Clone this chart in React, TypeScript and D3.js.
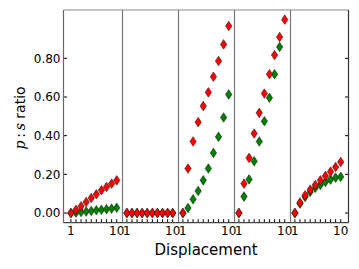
import * as d3 from 'd3';

// x positions shared by every panel
const steps = [1, 2, 3, 4, 5, 6, 7, 8, 9, 10];

// red series, one per panel
const red1 = [0, 0.017, 0.035, 0.057, 0.078, 0.097, 0.118, 0.135, 0.152, 0.169];
const red2 = [0, 0, 0, 0, 0, 0, 0, 0, 0, 0];
const red3 = [0, 0.23, 0.37, 0.47, 0.553, 0.624, 0.705, 0.786, 0.872, 0.967];
const red4 = [0, 0.152, 0.285, 0.411, 0.518, 0.618, 0.718, 0.817, 0.91, 1.0];
const red5 = [0, 0.054, 0.092, 0.121, 0.145, 0.169, 0.192, 0.214, 0.238, 0.264];

// green series, one per panel (null = above the plot)
const green1 = [0, 0.002, 0.005, 0.008, 0.011, 0.014, 0.017, 0.02, 0.023, 0.027];
const green2 = [0, 0, 0, 0, 0, 0, 0, 0, 0, 0];
const green3 = [0, 0.026, 0.071, 0.114, 0.169, 0.23, 0.311, 0.394, 0.494, 0.613];
const green4 = [0, 0.085, 0.174, 0.268, 0.37, 0.475, 0.596, 0.718, 0.859, null];
const green5 = [0, 0.049, 0.083, 0.109, 0.13, 0.145, 0.161, 0.173, 0.183, 0.187];

const yTicks = [0, 0.2, 0.4, 0.6, 0.8];
const xTickLabels = [1, 10];

const panels = [
  { red: red1, green: green1 },
  { red: red2, green: green2 },
  { red: red3, green: green3 },
  { red: red4, green: green4 },
  { red: red5, green: green5 },
];

const WIDTH = 359;
const HEIGHT = 269;
const box = { left: 63.5, right: 348.5, top: 10, bottom: 222.7 };
const FONT = '"DejaVu Sans", sans-serif';

const diamond = (cx: number, cy: number) => {
  const w = 3.2;
  const h = 4.8;
  return `M${cx},${cy - h}L${cx + w},${cy}L${cx},${cy + h}L${cx - w},${cy}Z`;
};

const App = () => {
  const y = d3.scaleLinear().domain([-0.05, 1.05]).range([box.bottom, box.top]);

  const band = d3.scaleBand<number>()
    .domain(panels.map((_, i) => i))
    .range([box.left + 2.3, box.right - 2.7])
    .paddingInner(0)
    .paddingOuter(0);

  const xFor = (i: number) => {
    const x0 = band(i) || 0;
    return d3.scaleLinear().domain([0, 11]).range([x0, x0 + band.bandwidth()]);
  };

  return (
    <svg width={WIDTH} height={HEIGHT} style={{ position: 'absolute', left: 0, top: 0 }}>
      <rect x={0} y={0} width={WIDTH} height={HEIGHT} fill="#fff" />

      {/* markers */}
      {panels.map((p, i) => {
        const x = xFor(i);
        return (
          <g key={i}>
            {steps.map((s, j) => p.green[j] == null ? null : (
              <path key={'g' + j} d={diamond(x(s), y(p.green[j] as number))}
                fill="#008000" stroke="#111" strokeWidth={0.5} />
            ))}
            {steps.map((s, j) => (
              <path key={'r' + j} d={diamond(x(s), y(p.red[j]))}
                fill="#ff0000" stroke="#111" strokeWidth={0.5} />
            ))}
          </g>
        );
      })}

      {/* x ticks and labels per panel */}
      {panels.map((_, i) => {
        const x = xFor(i);
        return (
          <g key={'xt' + i}>
            {steps.map(s => (
              <line key={s} x1={x(s)} x2={x(s)} y1={box.bottom} y2={box.bottom - 3.5}
                stroke="#000" strokeWidth={1} />
            ))}
            {xTickLabels.map(t => (
              <text key={t} x={x(t)} y={235} textAnchor="middle" fontFamily={FONT}
                fontSize={12} fill="#000">{t}</text>
            ))}
          </g>
        );
      })}

      {/* panel separators */}
      {panels.slice(1).map((_, k) => {
        const xs = Math.round(band(k + 1) || 0) + 0.5;
        return (
          <line key={'sep' + k} x1={xs} x2={xs} y1={box.top} y2={box.bottom}
            stroke="#777" strokeWidth={1.2} />
        );
      })}

      {/* y ticks */}
      {yTicks.map(t => (
        <g key={'yt' + t}>
          <line x1={box.left} x2={box.left + 3.5} y1={y(t)} y2={y(t)} stroke="#000" />
          <line x1={box.right} x2={box.right - 3.5} y1={y(t)} y2={y(t)} stroke="#000" />
          <text x={box.left - 3} y={y(t)} dy="0.36em" textAnchor="end" fontFamily={FONT}
            fontSize={12} fill="#000">{d3.format('.2f')(t)}</text>
        </g>
      ))}

      {/* frame */}
      <line x1={box.left} x2={box.right} y1={box.top} y2={box.top} stroke="#888" strokeWidth={1.2} />
      <line x1={box.left} x2={box.left} y1={box.top} y2={box.bottom} stroke="#666" strokeWidth={1.2} />
      <line x1={box.right} x2={box.right} y1={box.top} y2={box.bottom} stroke="#333" strokeWidth={1.2} />
      <line x1={box.left} x2={box.right} y1={box.bottom} y2={box.bottom} stroke="#444" strokeWidth={1.2} />

      {/* axis titles */}
      <text x={(box.left + box.right) / 2} y={255} textAnchor="middle" fontFamily={FONT}
        fontSize={15} fill="#000">Displacement</text>
      <text transform="translate(25,118) rotate(-90)" textAnchor="middle" fontFamily={FONT}
        fontSize={14} fill="#000">
        <tspan fontFamily='"DejaVu Serif", serif' fontStyle="italic">p</tspan>
        <tspan fontFamily='"DejaVu Serif", serif'>{'\u2009:\u2009'}</tspan>
        <tspan fontFamily='"DejaVu Serif", serif' fontStyle="italic">s</tspan>
        <tspan>{' ratio'}</tspan>
      </text>
    </svg>
  );
};

export default App;
